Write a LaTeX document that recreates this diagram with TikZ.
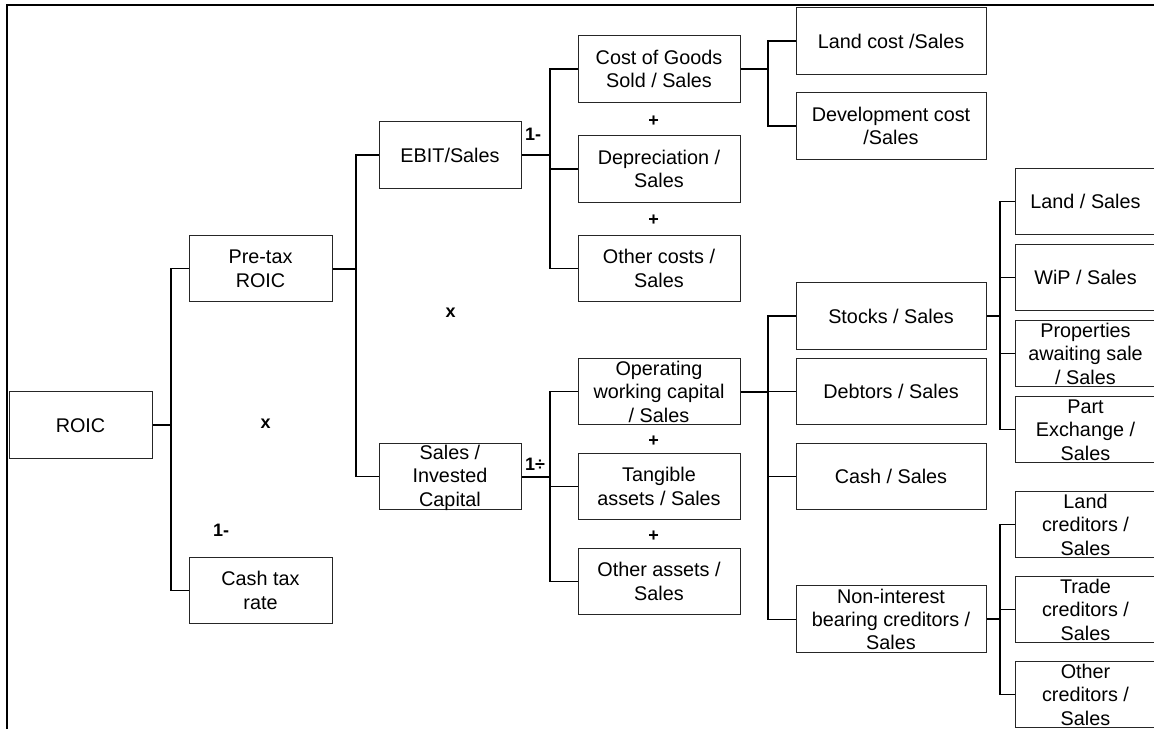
\documentclass[tikz,border=0pt]{standalone}
\usepackage{fontspec}
\setmainfont{Liberation Sans}
\newcommand\st{\rule[-2.6pt]{0pt}{19.4pt}}
\begin{document}
\begin{tikzpicture}[x=1pt,y=-1pt,
  nbox/.style={draw=black!85, rectangle, line width=1pt, inner sep=0pt, minimum height=66.7pt},
  colA/.style={nbox, minimum width=143pt},
  colB/.style={nbox, minimum width=142pt},
  colC/.style={nbox, minimum width=162pt},
  colD/.style={nbox, minimum width=190pt},
  colE/.style={nbox, minimum width=141pt},
  txt/.style={align=center, inner sep=0pt, text=black, font=\fontsize{19.8}{23.4}\selectfont},
  op/.style={inner sep=0pt, font=\fontsize{18}{20}\selectfont\bfseries},
  conn/.style={line width=1.2pt, black},
  stub/.style={line width=2pt, black},
  frame/.style={line width=2pt, black}]
\useasboundingbox (0,0) rectangle (1154,729);
\clip (0,0) rectangle (1154,729);
\draw[frame] (7,729) -- (7,5) -- (1160,5);
% column 1
\node[colA, label={[txt]center:{\st ROIC}}] (roic) at (80.5,425) {};
% column 2
\node[colA, label={[txt]center:{\st Pre-tax\\\st ROIC}}] (pre) at (260.5,268.5) {};
\node[colA, label={[txt]center:{\st Cash tax\\\st rate}}] (ctr) at (260.5,590.5) {};
% column 3
\node[colB, label={[txt]center:{\st EBIT/Sales}}] (ebit) at (450,155) {};
\node[colB, label={[txt]center:{\st Sales /\\\st Invested\\\st Capital}}] (sic) at (450,476.5) {};
% column 4
\node[colC, label={[txt]center:{\st Cost of Goods\\\st Sold / Sales}}] (cogs) at (659,69) {};
\node[colC, label={[txt]center:{\st Depreciation /\\\st Sales}}] (dep) at (659,169) {};
\node[colC, label={[txt]center:{\st Other costs /\\\st Sales}}] (oc) at (659,268.5) {};
\node[colC, label={[txt]center:{\st Operating\\\st working capital\\\st / Sales}}] (owc) at (659,391.5) {};
\node[colC, label={[txt]center:{\st Tangible\\\st assets / Sales}}] (tang) at (659,486.5) {};
\node[colC, label={[txt]center:{\st Other assets /\\\st Sales}}] (oa) at (659,581.5) {};
% column 5
\node[colD, label={[txt]center:{\st Land cost /Sales}}] (landc) at (891,41) {};
\node[colD, label={[txt]center:{\st Development cost\\\st /Sales}}] (devc) at (891,126) {};
\node[colD, label={[txt]center:{\st Stocks / Sales}}] (stocks) at (891,316) {};
\node[colD, label={[txt]center:{\st Debtors / Sales}}] (debt) at (891,391.5) {};
\node[colD, label={[txt]center:{\st Cash / Sales}}] (cashs) at (891,476.5) {};
\node[colD, label={[txt]center:{\st Non-interest\\\st bearing creditors /\\\st Sales}}] (nibc) at (891,619.3) {};
% column 6
\node[colE, label={[txt]center:{\st Land / Sales}}] (land) at (1085.5,201.5) {};
\node[colE, label={[txt]center:{\st WiP / Sales}}] (wip) at (1085.5,277.5) {};
\node[colE, label={[txt]center:{\st Properties\\\st awaiting sale\\\st / Sales}}] (prop) at (1085.5,353.5) {};
\node[colE, label={[txt]center:{\st Part\\\st Exchange /\\\st Sales}}] (pe) at (1085.5,429.5) {};
\node[colE, label={[txt]center:{\st Land\\\st creditors /\\\st Sales}}] (lcred) at (1085.5,524.5) {};
\node[colE, label={[txt]center:{\st Trade\\\st creditors /\\\st Sales}}] (tcred) at (1085.5,609.5) {};
\node[colE, label={[txt]center:{\st Other\\\st creditors /\\\st Sales}}] (ocred) at (1085.5,694.5) {};
% operators
\node[op] (x1) at (265.6,424) {x};
\node[op] (x2) at (450.6,312.7) {x};
\node[op] (m1) at (221,530.7) {1-};
\node[op] (m2) at (533,134) {1-};
\node[op] (d1) at (535,464) {1÷};
\node[op] (p1) at (653.5,121) {+};
\node[op] (p2) at (653.5,220) {+};
\node[op] (p3) at (653.5,441) {+};
\node[op] (p4) at (653.5,536.7) {+};
% trunk coordinates
\coordinate (t1) at (171,425);
\coordinate (t2) at (356,268.5);
\coordinate (t3) at (550,155);
\coordinate (t4) at (550,476.5);
\coordinate (t5) at (768,69);
\coordinate (t6) at (768,391.5);
\coordinate (t7) at (1000,316);
\coordinate (t8) at (1000,619.3);
% connectors
\draw[stub] (roic.east) -- (t1);
\draw[conn] (pre.west) -| (t1) |- (ctr.west);
\draw[stub] (pre.east) -- (t2);
\draw[conn] (ebit.west) -| (t2) |- (sic.west);
\draw[stub] (ebit.east) -- (t3);
\draw[conn] (cogs.west) -| (t3) |- (oc.west);
\draw[conn] (dep.west) -- (dep.west -| t3);
\draw[stub] (sic.east) -- (t4);
\draw[conn] (owc.west) -| (t4) |- (oa.west);
\draw[conn] (tang.west) -- (tang.west -| t4);
\draw[stub] (cogs.east) -- (t5);
\draw[conn] (landc.west) -| (t5) |- (devc.west);
\draw[stub] (owc.east) -- (t6);
\draw[conn] (stocks.west) -| (t6) |- (nibc.west);
\draw[conn] (debt.west) -- (t6);
\draw[conn] (cashs.west) -- (cashs.west -| t6);
\draw[stub] (stocks.east) -- (t7);
\draw[conn] (land.west) -| (t7) |- (pe.west);
\draw[conn] (wip.west) -- (wip.west -| t7);
\draw[conn] (prop.west) -- (prop.west -| t7);
\draw[stub] (nibc.east) -- (t8);
\draw[conn] (lcred.west) -| (t8) |- (ocred.west);
\draw[conn] (tcred.west) -- (tcred.west -| t8);
\end{tikzpicture}
\end{document}
